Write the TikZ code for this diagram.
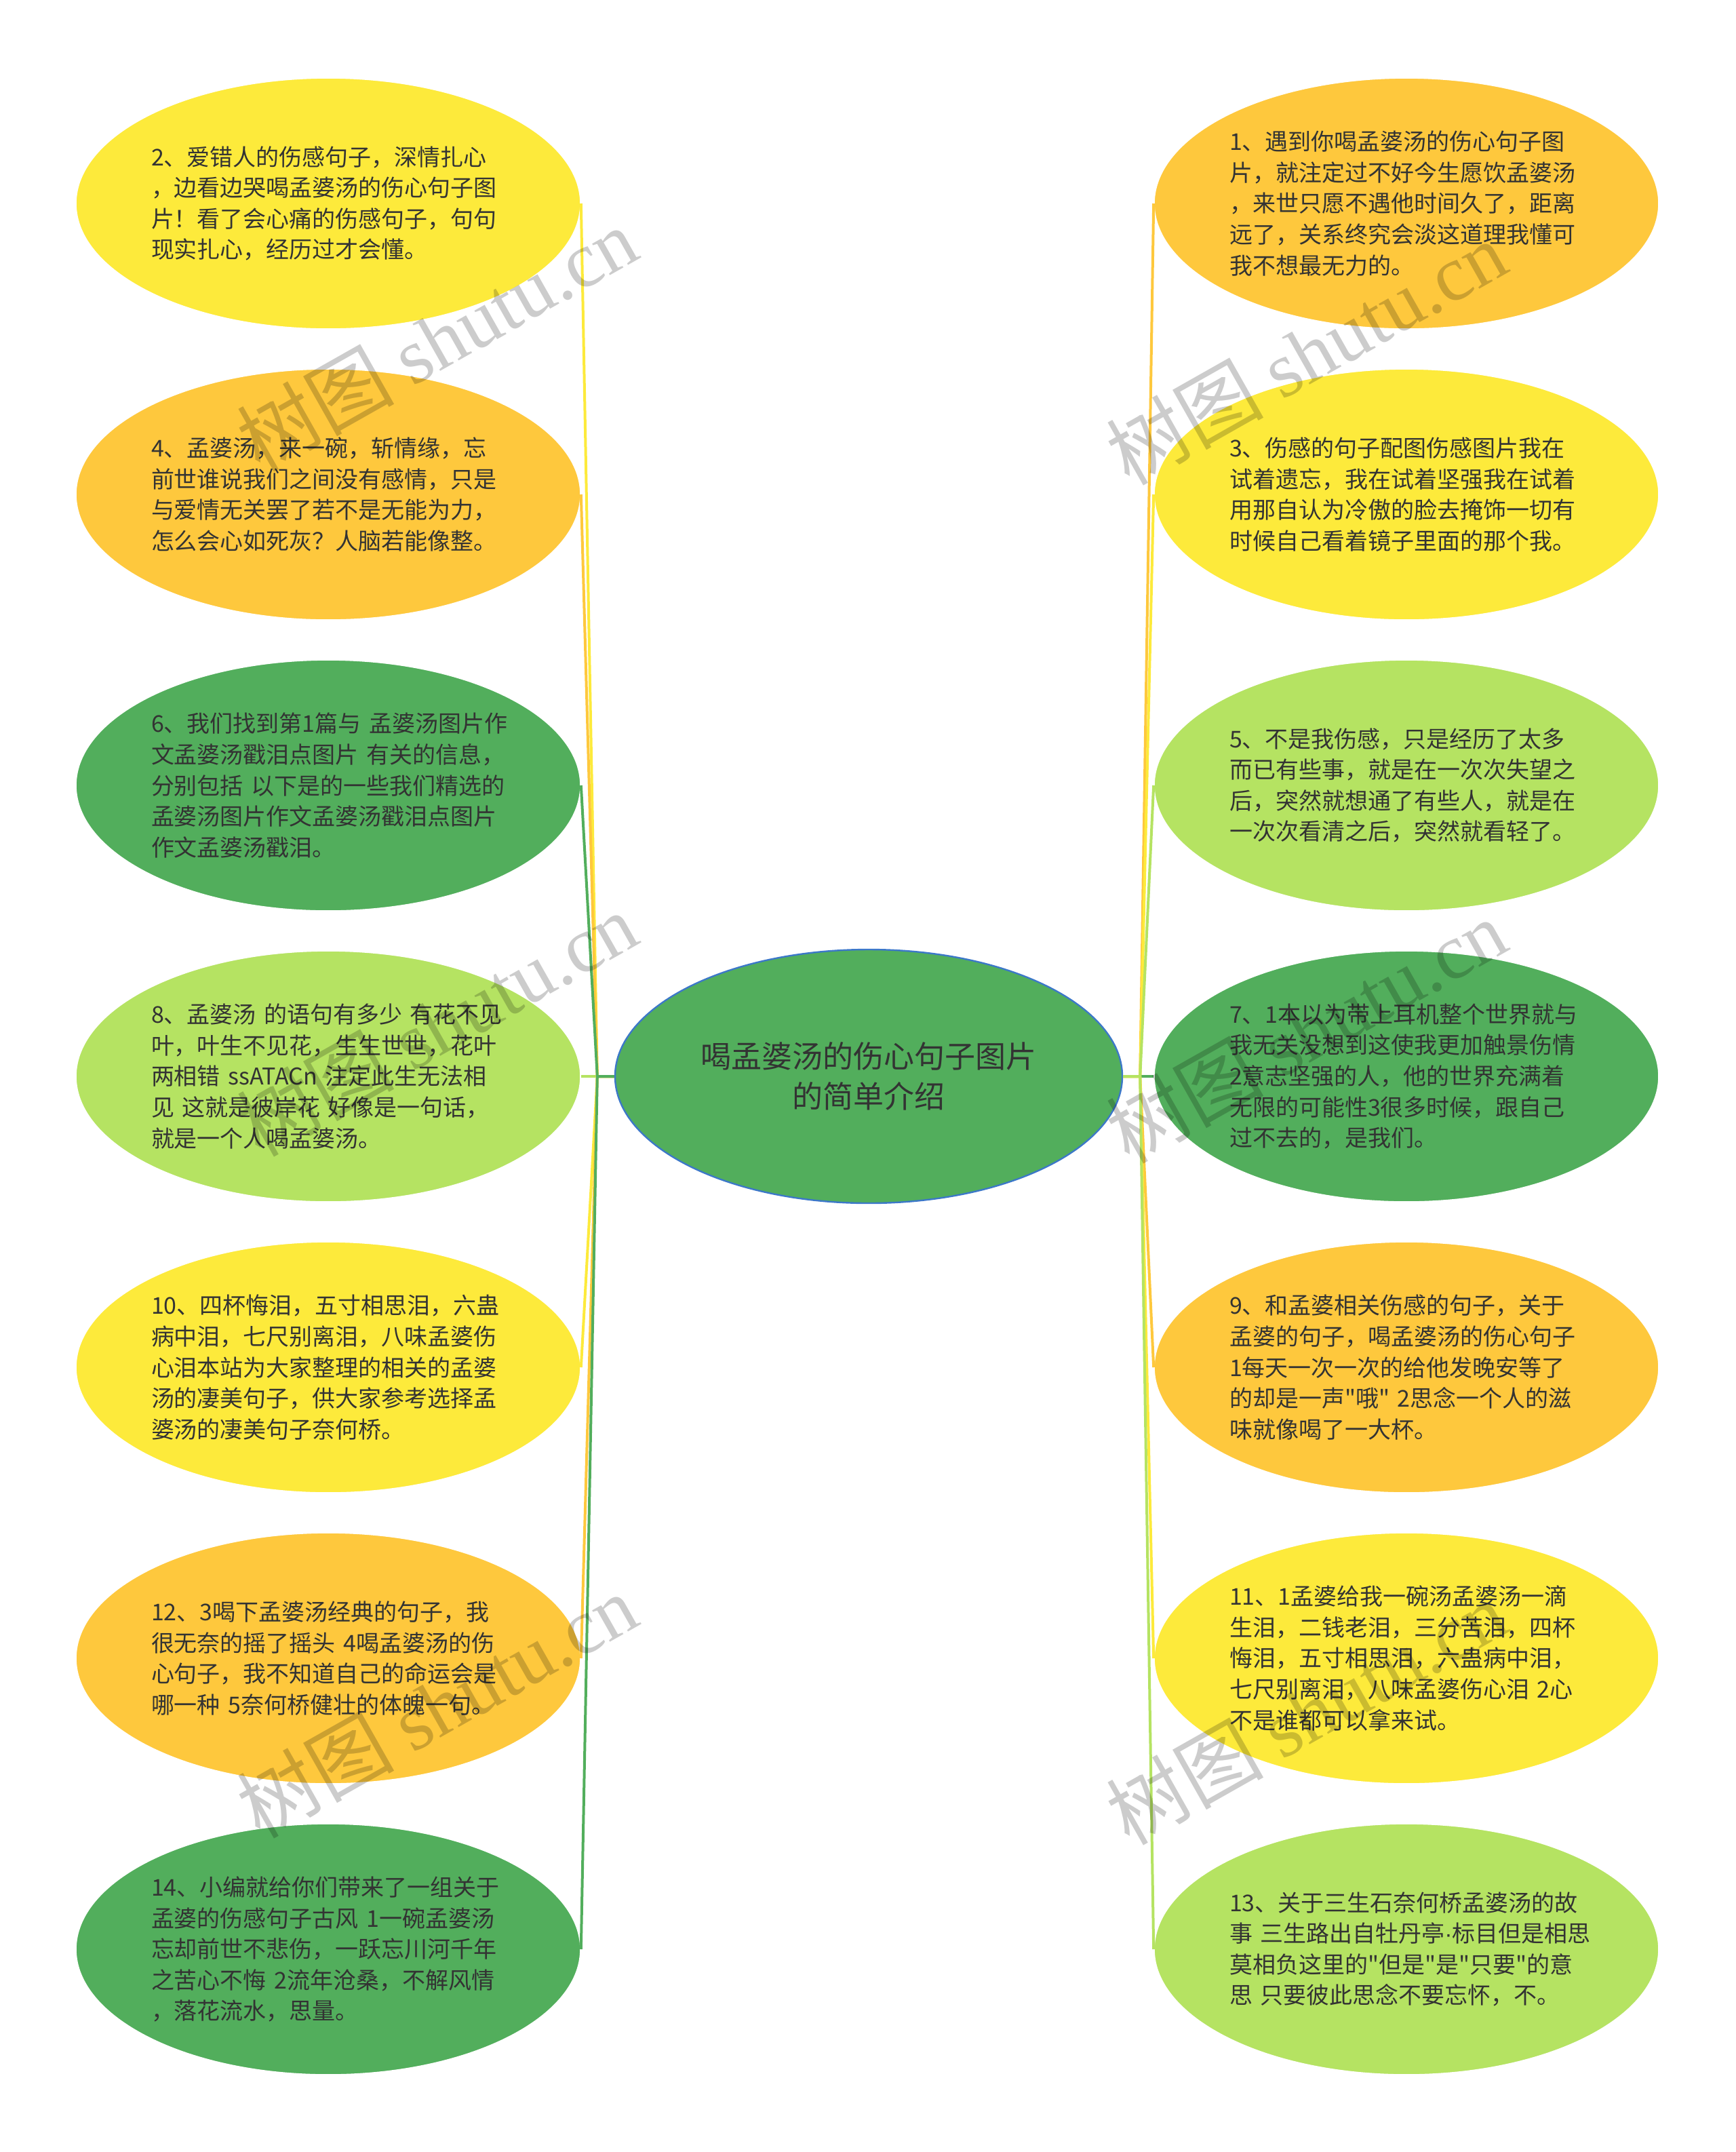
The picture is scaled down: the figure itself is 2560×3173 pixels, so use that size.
\documentclass[tikz,border=0pt]{standalone}
\usepackage{fontspec}
\setmainfont{Noto Sans CJK SC}[Ligatures=TeXOff]
\newfontfamily\wmlatin{Liberation Serif}
\newfontfamily\latinsans{Liberation Sans}
\usetikzlibrary{shapes.geometric}
\definecolor{cyellow}{HTML}{FDEA3B}
\definecolor{corange}{HTML}{FEC83D}
\definecolor{cdgreen}{HTML}{52AE5C}
\definecolor{clgreen}{HTML}{B5E362}
\definecolor{ctext}{HTML}{333333}
\definecolor{cblue}{HTML}{3C78C8}
\newcommand{\mdot}{{\latinsans ·}}
\begin{document}
\begin{tikzpicture}[x=0.25pt,y=-0.25pt,
  leaf/.style={ellipse, minimum width=186pt, minimum height=92.5pt, inner sep=0pt,
    draw=white, line width=0.4pt, text=ctext, text width=130.5pt, align=left,
    font=\fontsize{8.5}{11.4}\selectfont},
  rootnode/.style={ellipse, minimum width=187pt, minimum height=93.5pt, inner sep=0pt,
    fill=cdgreen, draw=cblue, line width=0.6pt, text=ctext, align=center,
    font=\fontsize{11.25}{14.7}\selectfont},
  conn/.style={line width=1pt},
  wm/.style={text=black, opacity=0.2, font=\fontsize{29}{29}\selectfont, inner sep=0pt, rotate=29.5}
]
\fill[white] (0,0) rectangle (2560,3173);
\useasboundingbox (0,0) rectangle (2560,3173);

% root
\node[rootnode] (root) at (1281,1587) {喝孟婆汤的伤心句子图片\\的简单介绍};
\coordinate (jl) at ([xshift=-6.25pt]root.west);
\coordinate (jr) at ([xshift=6.25pt]root.east);

% left column
\node[leaf, fill=cyellow] (n2) at (484,300) {2、爱错人的伤感句子，深情扎心\\，边看边哭喝孟婆汤的伤心句子图\\片！看了会心痛的伤感句子，句句\\现实扎心，经历过才会懂。};
\node[leaf, fill=corange] (n4) at (484,729) {4、孟婆汤，来一碗，斩情缘，忘\\前世谁说我们之间没有感情，只是\\与爱情无关罢了若不是无能为力，\\怎么会心如死灰？人脑若能像整。};
\node[leaf, fill=cdgreen] (n6) at (484,1158) {6、我们找到第1篇与~孟婆汤图片作\\文孟婆汤戳泪点图片~有关的信息，\\分别包括~以下是的一些我们精选的\\孟婆汤图片作文孟婆汤戳泪点图片\\作文孟婆汤戳泪。};
\node[leaf, fill=clgreen] (n8) at (484,1587) {8、孟婆汤~的语句有多少~有花不见\\叶，叶生不见花，生生世世，花叶\\两相错~ssATACn~注定此生无法相\\见~这就是彼岸花~好像是一句话，\\就是一个人喝孟婆汤。};
\node[leaf, fill=cyellow] (n10) at (484,2016) {10、四杯悔泪，五寸相思泪，六蛊\\病中泪，七尺别离泪，八味孟婆伤\\心泪本站为大家整理的相关的孟婆\\汤的凄美句子，供大家参考选择孟\\婆汤的凄美句子奈何桥。};
\node[leaf, fill=corange] (n12) at (484,2445) {12、3喝下孟婆汤经典的句子，我\\很无奈的摇了摇头~4喝孟婆汤的伤\\心句子，我不知道自己的命运会是\\哪一种~5奈何桥健壮的体魄一句。};
\node[leaf, fill=cdgreen] (n14) at (484,2874) {14、小编就给你们带来了一组关于\\孟婆的伤感句子古风~1一碗孟婆汤\\忘却前世不悲伤，一跃忘川河千年\\之苦心不悔~2流年沧桑，不解风情\\，落花流水，思量。};

% right column
\node[leaf, fill=corange] (n1) at (2074,300) {1、遇到你喝孟婆汤的伤心句子图\\片，就注定过不好今生愿饮孟婆汤\\，来世只愿不遇他时间久了，距离\\远了，关系终究会淡这道理我懂可\\我不想最无力的。};
\node[leaf, fill=cyellow] (n3) at (2074,729) {3、伤感的句子配图伤感图片我在\\试着遗忘，我在试着坚强我在试着\\用那自认为冷傲的脸去掩饰一切有\\时候自己看着镜子里面的那个我。};
\node[leaf, fill=clgreen] (n5) at (2074,1158) {5、不是我伤感，只是经历了太多\\而已有些事，就是在一次次失望之\\后，突然就想通了有些人，就是在\\一次次看清之后，突然就看轻了。};
\node[leaf, fill=cdgreen] (n7) at (2074,1587) {7、1本以为带上耳机整个世界就与\\我无关没想到这使我更加触景伤情\\2意志坚强的人，他的世界充满着\\无限的可能性3很多时候，跟自己\\过不去的，是我们。};
\node[leaf, fill=corange] (n9) at (2074,2016) {9、和孟婆相关伤感的句子，关于\\孟婆的句子，喝孟婆汤的伤心句子\\1每天一次一次的给他发晚安等了\\的却是一声"哦"~2思念一个人的滋\\味就像喝了一大杯。};
\node[leaf, fill=cyellow] (n11) at (2074,2445) {11、1孟婆给我一碗汤孟婆汤一滴\\生泪，二钱老泪，三分苦泪，四杯\\悔泪，五寸相思泪，六蛊病中泪，\\七尺别离泪，八味孟婆伤心泪~2心\\不是谁都可以拿来试。};
\node[leaf, fill=clgreen] (n13) at (2074,2874) {13、关于三生石奈何桥孟婆汤的故\\事~三生路出自牡丹亭\mdot 标目但是相思\\莫相负这里的"但是"是"只要"的意\\思~只要彼此思念不要忘怀，不。};

% connectors
\draw[conn, cyellow] (root.west) -- (jl) -- (n2.east);
\draw[conn, corange] (root.west) -- (jl) -- (n4.east);
\draw[conn, cdgreen] (root.west) -- (jl) -- (n6.east);
\draw[conn, clgreen] (root.west) -- (jl) -- (n8.east);
\draw[conn, cyellow] (root.west) -- (jl) -- (n10.east);
\draw[conn, corange] (root.west) -- (jl) -- (n12.east);
\draw[conn, cdgreen] (root.west) -- (jl) -- (n14.east);
\draw[conn, corange] (root.east) -- (jr) -- (n1.west);
\draw[conn, cyellow] (root.east) -- (jr) -- (n3.west);
\draw[conn, clgreen] (root.east) -- (jr) -- (n5.west);
\draw[conn, cdgreen] (root.east) -- (jr) -- (n7.west);
\draw[conn, corange] (root.east) -- (jr) -- (n9.west);
\draw[conn, cyellow] (root.east) -- (jr) -- (n11.west);
\draw[conn, clgreen] (root.east) -- (jr) -- (n13.west);

% watermarks
\node[wm] (w1) at (644,500) {树图 {\wmlatin shutu.cn}};
\node[wm] (w2) at (1926,520) {树图 {\wmlatin shutu.cn}};
\node[wm] (w3) at (644,1510) {树图 {\wmlatin shutu.cn}};
\node[wm] (w4) at (1926,1520) {树图 {\wmlatin shutu.cn}};
\node[wm] (w5) at (644,2515) {树图 {\wmlatin shutu.cn}};
\node[wm] (w6) at (1926,2525) {树图 {\wmlatin shutu.cn}};
\end{tikzpicture}
\end{document}
